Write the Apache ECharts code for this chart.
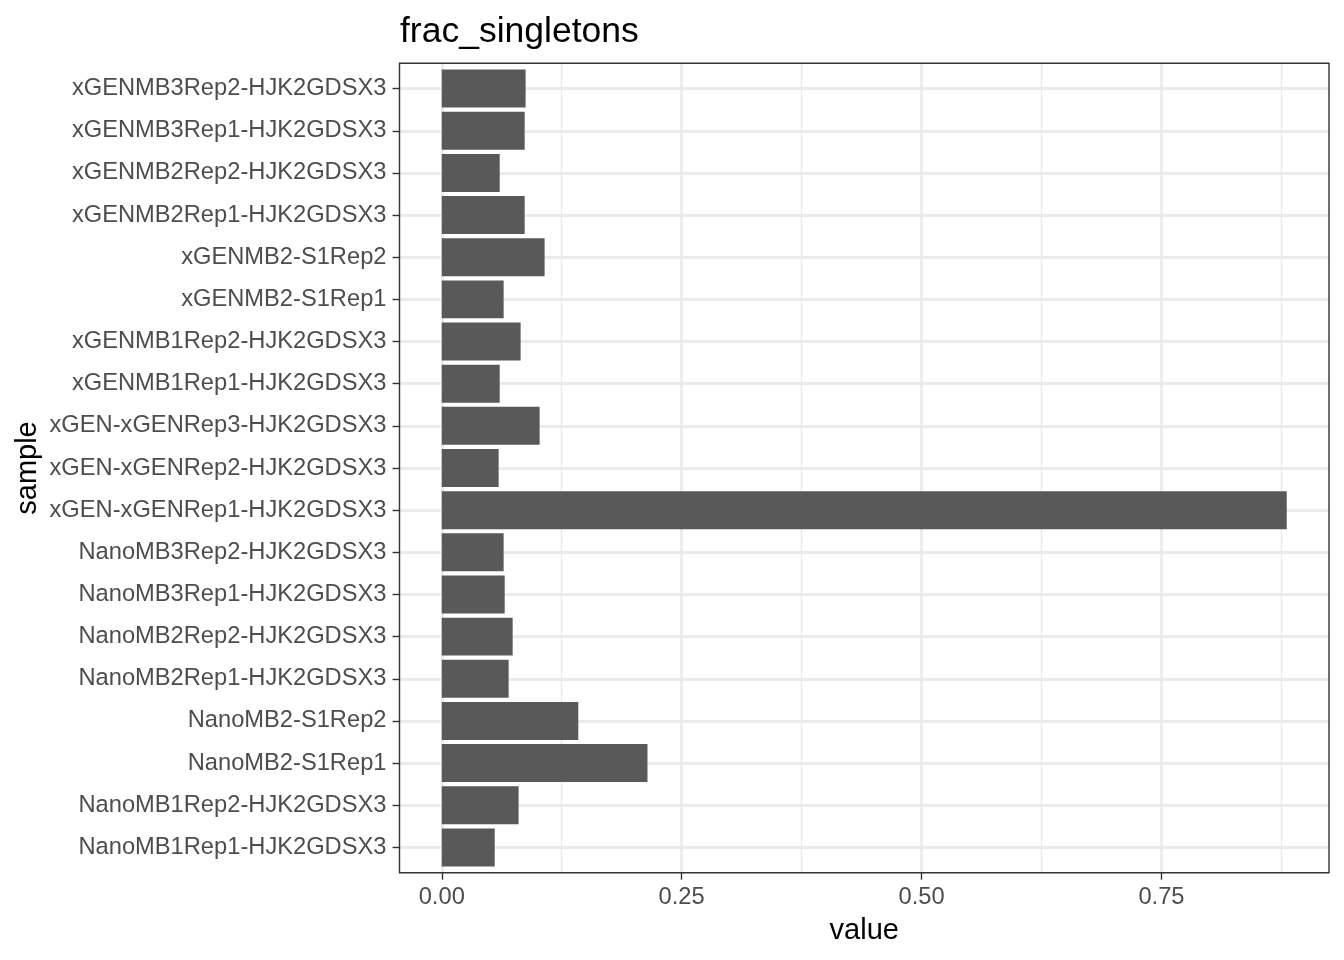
<!DOCTYPE html>
<html><head><meta charset="utf-8">
<script src="https://cdn.jsdelivr.net/npm/echarts@6/dist/echarts.min.js"></script>
<style>html,body{margin:0;padding:0;background:#fff}#c{width:1344px;height:960px}</style>
</head><body><div id="c"></div>
<script>
// categories listed bottom to top (ggplot discrete order)
const categories = [
  'NanoMB1Rep1-HJK2GDSX3', 'NanoMB1Rep2-HJK2GDSX3', 'NanoMB2-S1Rep1', 'NanoMB2-S1Rep2',
  'NanoMB2Rep1-HJK2GDSX3', 'NanoMB2Rep2-HJK2GDSX3', 'NanoMB3Rep1-HJK2GDSX3', 'NanoMB3Rep2-HJK2GDSX3',
  'xGEN-xGENRep1-HJK2GDSX3', 'xGEN-xGENRep2-HJK2GDSX3', 'xGEN-xGENRep3-HJK2GDSX3',
  'xGENMB1Rep1-HJK2GDSX3', 'xGENMB1Rep2-HJK2GDSX3', 'xGENMB2-S1Rep1', 'xGENMB2-S1Rep2',
  'xGENMB2Rep1-HJK2GDSX3', 'xGENMB2Rep2-HJK2GDSX3', 'xGENMB3Rep1-HJK2GDSX3', 'xGENMB3Rep2-HJK2GDSX3'
];
const values = [
  0.0552, 0.0801, 0.2144, 0.1423,
  0.0697, 0.0739, 0.0656, 0.0645,
  0.8806, 0.0593, 0.1020,
  0.0604, 0.0822, 0.0645, 0.1072,
  0.0864, 0.0604, 0.0864, 0.0874
];
const titleText = 'frac_singletons';
const xName = 'value';
const yName = 'sample';

const FONT = 'Liberation Sans, Arial, Helvetica, sans-serif';
const PL = 399.5, PR = 1329, PT = 63.3, PB = 872.7;
const vmax = Math.max(...values);
const lo = -0.05 * vmax, hi = 1.05 * vmax;
const ppu = (PR - PL) / (hi - lo);
const x0 = PL + (0 - lo) * ppu;
const band = (PB - PT) / (categories.length - 1 + 1.2);

const tickStyle = { color: '#333333', width: 1.4 };
const gridColor = '#EBEBEB';
const AX = 23.7;

const chart = echarts.init(document.getElementById('c'), null, { renderer: 'canvas' });
chart.setOption({
  animation: false,
  backgroundColor: '#ffffff',
  title: {
    text: titleText, left: 400, top: 14, padding: 0,
    textStyle: { fontSize: 35.5, fontWeight: 'normal', color: '#000000', fontFamily: FONT }
  },
  grid: [
    { left: PL, top: PT, width: PR - PL, height: PB - PT, show: true, outerBoundsMode: 'none', containLabel: false,
      borderColor: '#333333', borderWidth: 1.4, backgroundColor: 'transparent', z: 5 },
    { left: x0, top: PT, width: ppu * 1, height: PB - PT, outerBoundsMode: 'none', containLabel: false },
    { left: PL, top: PT + 0.6 * band, width: PR - PL, height: (categories.length - 1) * band,
      outerBoundsMode: 'none', containLabel: false }
  ],
  xAxis: [
    { gridIndex: 0, type: 'value', min: lo, max: hi,
      name: xName, nameLocation: 'middle', nameGap: 44,
      nameTextStyle: { fontSize: 29, color: '#000000', fontFamily: FONT },
      axisLine: { show: false, onZero: false }, axisTick: { show: false },
      axisLabel: { show: false }, splitLine: { show: false } },
    { gridIndex: 1, type: 'value', min: 0, max: 1, interval: 0.25,
      axisLine: { show: false, onZero: false },
      axisTick: { show: true, length: 7, lineStyle: tickStyle },
      axisLabel: { show: true, fontSize: AX, color: '#4D4D4D', margin: 13, fontFamily: FONT,
        formatter: v => v.toFixed(2) },
      splitLine: { show: true, lineStyle: { color: gridColor, width: 2.8 } },
      minorTick: { show: false, splitNumber: 2 },
      minorSplitLine: { show: true, lineStyle: { color: gridColor, width: 1.4 } } },
    { gridIndex: 2, type: 'value', min: lo, max: hi, show: false,
      axisLine: { onZero: false } }
  ],
  yAxis: [
    { gridIndex: 0, type: 'value', min: 0, max: 1,
      name: yName, nameLocation: 'middle', nameRotate: 90, nameGap: 357,
      nameTextStyle: { fontSize: 29, color: '#000000', fontFamily: FONT },
      axisLine: { show: false, onZero: false }, axisTick: { show: false },
      axisLabel: { show: false }, splitLine: { show: false } },
    { gridIndex: 1, type: 'value', min: 0, max: 1, show: false, axisLine: { onZero: false } },
    { gridIndex: 2, type: 'category', data: categories, boundaryGap: false,
      axisLine: { show: false, onZero: false },
      axisTick: { show: true, length: 7, interval: 0, lineStyle: tickStyle },
      axisLabel: { show: true, interval: 0, fontSize: AX, color: '#4D4D4D', margin: 13, fontFamily: FONT },
      splitLine: { show: true, interval: 0, lineStyle: { color: gridColor, width: 2.8 } } }
  ],
  series: [
    { type: 'bar', xAxisIndex: 2, yAxisIndex: 2, data: values,
      barWidth: 0.9 * band, itemStyle: { color: '#595959' }, silent: true }
  ]
});
</script>
</body></html>
